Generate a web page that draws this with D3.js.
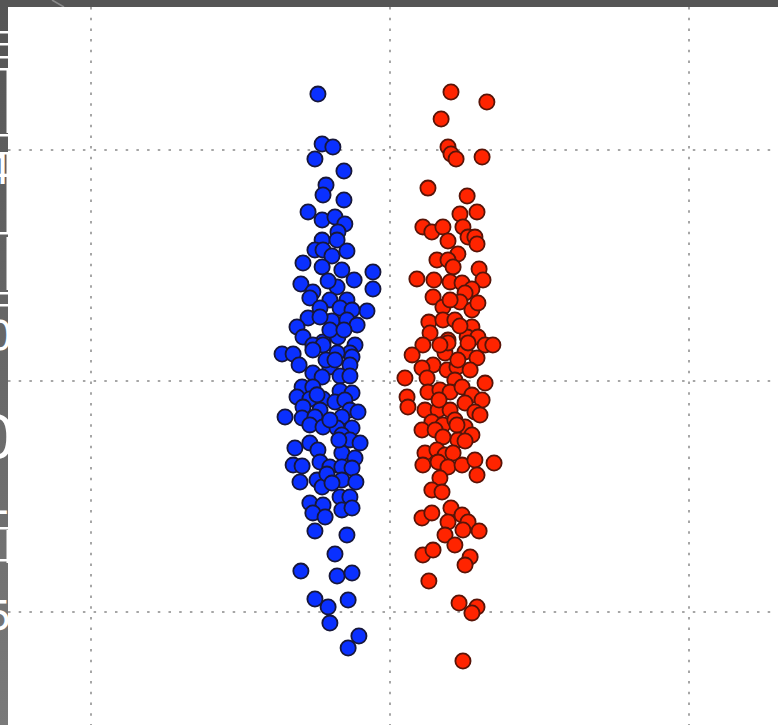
<!DOCTYPE html>
<html>
<head>
<meta charset="utf-8">
<script src="https://cdn.jsdelivr.net/npm/d3@7/dist/d3.min.js"></script>
<style>
  html, body { margin: 0; padding: 0; background: #555; }
  svg { display: block; }
</style>
</head>
<body>
<svg id="chart"></svg>
<script>
// grid tick values (labels are cut off in the picture)
var xTicks = [-1, 0, 1],
    yTicks = [-1, 0, 1];

// series A (blue): [x, y]
var blueX = [-0.241,-0.227,-0.191,-0.251,-0.154,-0.214,-0.224,-0.154,-0.274,-0.227,-0.184,-0.151,-0.174,-0.227,-0.177,-0.251,-0.144,-0.224,-0.194,-0.291,
             -0.227,-0.161,-0.057,-0.120,-0.057,-0.298,-0.258,-0.177,-0.207,-0.268,-0.201,-0.144,-0.077,-0.234,-0.167,-0.127,-0.274,-0.194,-0.144,-0.110,
             -0.311,-0.234,-0.291,-0.224,-0.117,-0.258,-0.174,-0.361,-0.324,-0.134,-0.304,-0.224,-0.258,-0.177,-0.127,-0.201,-0.134,-0.258,-0.227,-0.167,
             -0.134,-0.294,-0.258,-0.167,-0.127,-0.311,-0.268,-0.224,-0.184,-0.151,-0.291,-0.234,-0.134,-0.107,-0.351,-0.294,-0.251,-0.161,-0.268,-0.224,
             -0.177,-0.127,-0.161,-0.134,-0.100,-0.318,-0.268,-0.241,-0.161,-0.117,-0.324,-0.294,-0.234,-0.201,-0.161,-0.127,-0.301,-0.244,-0.227,-0.161,
             -0.114,-0.268,-0.224,-0.167,-0.134,-0.161,-0.127,-0.258,-0.217,-0.251,-0.144,-0.184,-0.298,-0.177,-0.127,-0.251,-0.207,-0.140,-0.201,-0.104,
             -0.140,-0.201,-0.154,-0.214,-0.184,-0.244,-0.201,-0.171,-0.211,-0.194];
var blueY = [1.242,1.026,1.013,0.961,0.909,0.848,0.805,0.784,0.732,0.697,0.710,0.680,0.645,0.610,0.610,0.567,0.563,0.567,0.541,0.511,
             0.494,0.481,0.472,0.437,0.398,0.420,0.385,0.407,0.433,0.359,0.351,0.351,0.303,0.316,0.316,0.307,0.273,0.260,0.264,0.242,
             0.234,0.277,0.190,0.169,0.156,0.156,0.190,0.117,0.117,0.121,0.069,0.156,0.134,0.121,0.104,0.061,0.069,0.035,0.017,0.022,
             0.022,-0.026,-0.026,-0.043,-0.052,-0.069,-0.078,-0.078,-0.091,-0.082,-0.113,-0.126,-0.126,-0.134,-0.156,-0.160,-0.156,-0.156,-0.190,-0.199,
             -0.203,-0.203,-0.234,-0.255,-0.268,-0.290,-0.268,-0.299,-0.312,-0.333,-0.364,-0.368,-0.351,-0.372,-0.372,-0.377,-0.437,-0.429,-0.459,-0.429,
             -0.437,-0.528,-0.537,-0.502,-0.502,-0.558,-0.550,-0.571,-0.589,-0.649,-0.667,-0.749,-0.823,-0.844,-0.831,-0.944,-0.978,-0.948,-1.048,-1.104,
             -1.156,0.221,0.221,0.091,0.091,-0.060,-0.169,-0.255,-0.403,-0.442];

// series B (red): [x, y]
var redX = [0.204,0.324,0.171,0.194,0.204,0.221,0.308,0.127,0.258,0.234,0.291,0.110,0.140,0.177,0.244,0.261,0.284,0.291,0.194,0.227,
            0.157,0.194,0.211,0.298,0.311,0.090,0.147,0.201,0.241,0.274,0.144,0.251,0.177,0.234,0.274,0.294,0.130,0.177,0.217,0.274,
            0.134,0.194,0.258,0.294,0.110,0.318,0.344,0.074,0.184,0.251,0.194,0.261,0.291,0.144,0.107,0.191,0.224,0.268,0.050,0.124,
            0.217,0.318,0.127,0.167,0.201,0.241,0.274,0.308,0.057,0.060,0.251,0.117,0.161,0.201,0.284,0.301,0.140,0.177,0.217,0.251,
            0.107,0.151,0.274,0.227,0.177,0.117,0.157,0.184,0.211,0.110,0.161,0.194,0.241,0.284,0.348,0.291,0.167,0.140,0.174,0.107,
            0.140,0.204,0.194,0.241,0.261,0.244,0.298,0.184,0.217,0.110,0.144,0.268,0.251,0.130,0.231,0.291,0.274,0.244,
            0.234,0.201,0.227,0.167,0.251,0.164,0.224];
var redY = [1.251,1.208,1.134,1.013,0.983,0.961,0.970,0.835,0.801,0.723,0.732,0.667,0.645,0.667,0.667,0.623,0.623,0.593,0.606,0.550,
            0.524,0.524,0.494,0.485,0.437,0.442,0.437,0.429,0.424,0.398,0.364,0.381,0.320,0.342,0.307,0.338,0.255,0.264,0.264,0.234,
            0.208,0.177,0.190,0.190,0.156,0.156,0.156,0.113,0.121,0.126,0.165,0.165,0.100,0.069,0.056,0.048,0.061,0.048,0.013,0.013,
            0.004,-0.009,-0.048,-0.039,-0.048,-0.026,-0.061,-0.082,-0.069,-0.113,-0.095,-0.126,-0.126,-0.126,-0.134,-0.147,-0.177,-0.190,-0.169,-0.199,
            -0.212,-0.212,-0.234,-0.255,-0.242,-0.312,-0.299,-0.320,-0.312,-0.364,-0.351,-0.372,-0.364,-0.342,-0.355,-0.407,-0.420,-0.472,-0.481,-0.593,
            -0.571,-0.550,-0.610,-0.580,-0.610,-0.645,-0.649,-0.667,-0.710,-0.753,-0.732,-0.762,-0.797,-0.866,-0.961,-0.978,-1.004,-1.212,
            0.238,0.351,0.091,0.156,-0.260,-0.082,-0.190];

var W = 778, H = 725,
    plot = {left: 8, top: 7};

var svg = d3.select("#chart").attr("width", W).attr("height", H);

var defs = svg.append("defs");
var grad = defs.append("linearGradient")
    .attr("id", "frameGrad")
    .attr("x1", 0).attr("y1", 0).attr("x2", 0).attr("y2", 1);
grad.append("stop").attr("offset", "0%").attr("stop-color", "#555555");
grad.append("stop").attr("offset", "100%").attr("stop-color", "#7a7a7a");

svg.append("rect")
    .attr("width", W).attr("height", H)
    .attr("fill", "url(#frameGrad)");
svg.append("rect")
    .attr("width", W).attr("height", plot.top)
    .attr("fill", "#555555");
svg.append("line")
    .attr("x1", 52).attr("y1", 0).attr("x2", 64).attr("y2", plot.top)
    .style("stroke", "#8a8a8a").style("stroke-width", 1.5);

// clipped pieces of the left labels
var frag = svg.append("g").attr("fill", "#ffffff")
    .style("font-family", "DejaVu Sans").style("font-size", "40px")
    .attr("text-anchor", "end");
frag.append("text").attr("x", 11).attr("y", 184).text("4");
frag.append("text").attr("x", 13).attr("y", 350).text("0");
frag.append("text").attr("x", 16).attr("y", 458).style("font-size", "58px").text("0");
frag.append("text").attr("x", 11).attr("y", 525).text("+");
frag.append("text").attr("x", 12).attr("y", 630).text("5");

// white strokes along the left edge (rest of the cut label)
var bars = [32, 44, 57, 69, 135, 153, 233, 293, 305, 528, 560];
svg.append("g").selectAll("rect")
    .data(bars).enter().append("rect")
    .attr("x", 0).attr("y", function(d){ return d - 1; })
    .attr("width", plot.left).attr("height", 2.5)
    .attr("fill", "#ffffff");
var stems = [[70, 133], [153, 233], [237, 290], [530, 563]];
svg.append("g").selectAll("rect")
    .data(stems).enter().append("rect")
    .attr("x", plot.left - 1.5).attr("y", function(d){ return d[0]; })
    .attr("width", 1.5).attr("height", function(d){ return d[1] - d[0]; })
    .attr("fill", "#ffffff");

svg.append("rect")
    .attr("x", plot.left).attr("y", plot.top)
    .attr("width", W - plot.left).attr("height", H - plot.top)
    .attr("fill", "#ffffff");

defs.append("clipPath").attr("id", "plotClip")
    .append("rect")
    .attr("x", plot.left).attr("y", plot.top)
    .attr("width", W - plot.left).attr("height", H - plot.top);

var x = d3.scaleLinear().domain([-1, 1]).range([91, 689]),
    y = d3.scaleLinear().domain([-1, 1]).range([612, 150]);

var g = svg.append("g").attr("clip-path", "url(#plotClip)");

g.append("g").selectAll("line.vgrid")
    .data(xTicks).enter().append("line")
    .attr("class", "vgrid")
    .attr("x1", function(d){ return x(d); })
    .attr("x2", function(d){ return x(d); })
    .attr("y1", plot.top).attr("y2", H)
    .style("stroke", "#a6a6a6")
    .style("stroke-width", 2)
    .style("stroke-dasharray", "2.5,8.2");

g.append("g").selectAll("line.hgrid")
    .data(yTicks).enter().append("line")
    .attr("class", "hgrid")
    .attr("y1", function(d){ return y(d); })
    .attr("y2", function(d){ return y(d); })
    .attr("x1", plot.left).attr("x2", W)
    .style("stroke", "#a6a6a6")
    .style("stroke-width", 2)
    .style("stroke-dasharray", "2.5,8.2");

function drawSeries(xs, ys, fill, edge){
    var pts = xs.map(function(v, i){ return [v, ys[i]]; });
    g.append("g").selectAll("circle")
        .data(pts).enter().append("circle")
        .attr("cx", function(d){ return x(d[0]); })
        .attr("cy", function(d){ return y(d[1]); })
        .attr("r", 7.6)
        .style("fill", fill)
        .style("stroke", edge)
        .style("stroke-width", 1.8);
}

drawSeries(blueX, blueY, "#0a30ff", "#17173a");
drawSeries(redX, redY, "#ff2400", "#581408");
</script>
</body>
</html>
